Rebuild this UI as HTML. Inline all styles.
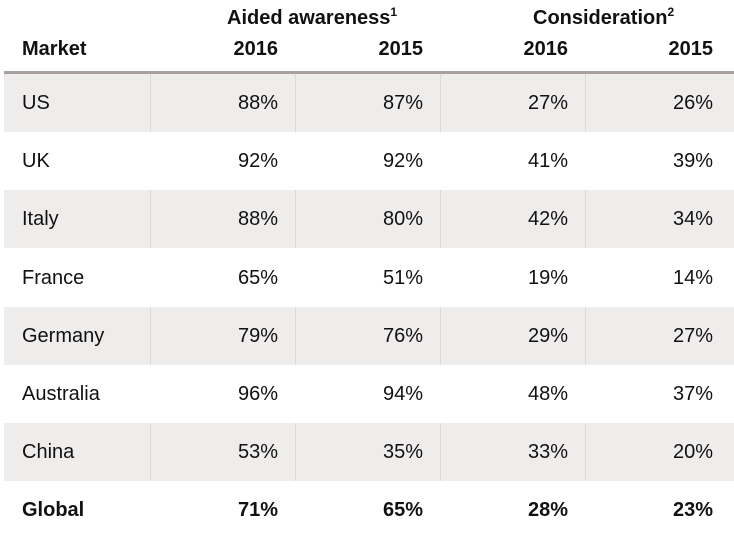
<!DOCTYPE html>
<html><head><meta charset="utf-8">
<style>
body{margin:0;width:734px;height:528px;background:#fff;font-family:"Liberation Sans",sans-serif;color:#111;overflow:hidden;position:relative}
.t{position:absolute;font-size:20px;line-height:24px;white-space:nowrap}
.r{text-align:right}
.b{font-weight:bold}
.row{position:absolute;left:4px;width:730px}
.sep{position:absolute;width:1px;background:#ddd8d8}
sup{font-size:12px;vertical-align:8px;line-height:0}
</style></head><body>
<div class="t b" style="left:227px;top:6px">Aided awareness<sup>1</sup></div>
<div class="t b" style="left:533px;top:6px">Consideration<sup>2</sup></div>
<div class="t b" style="left:22px;top:37px">Market</div>
<div class="t b r" style="right:456px;top:37px">2016</div>
<div class="t b r" style="right:311px;top:37px">2015</div>
<div class="t b r" style="right:166px;top:37px">2016</div>
<div class="t b r" style="right:21px;top:37px">2015</div>
<div style="position:absolute;left:4px;top:71px;width:730px;height:3px;background:#a8a0a0"></div>
<div id="tbl"></div>
<script>
const markets=["US","UK","Italy","France","Germany","Australia","China","Global"];
const aided2016=[88,92,88,65,79,96,53,71];
const aided2015=[87,92,80,51,76,94,35,65];
const cons2016=[27,41,42,19,29,48,33,28];
const cons2015=[26,39,34,14,27,37,20,23];
const tbl=document.getElementById('tbl');
const rightEdges=[456,311,166,21];
const seps=[150,295,440,585];
markets.forEach((m,i)=>{
  const top=74+i*58.2;
  const last=i===markets.length-1;
  const row=document.createElement('div');
  row.className='row';
  row.style.top=top+'px';row.style.height='58px';
  if(i%2===0&&!last){row.style.background='#efecec';}
  
  
  tbl.appendChild(row);
  if(i%2===0&&!last){seps.forEach(x=>{const s=document.createElement('div');s.className='sep';s.style.left=x+'px';s.style.top=top+'px';s.style.height='58px';
  
  
  tbl.appendChild(s);});}
  const ty=top+17;
  const lab=document.createElement('div');
  lab.className='t'+(last?' b':'');lab.style.left='22px';lab.style.top=ty+'px';lab.textContent=m;
  
  
  tbl.appendChild(lab);
  [aided2016[i],aided2015[i],cons2016[i],cons2015[i]].forEach((v,j)=>{
    const c=document.createElement('div');
    c.className='t r'+(last?' b':'');c.style.right=rightEdges[j]+'px';c.style.top=ty+'px';c.textContent=v+'%';
    
    
    tbl.appendChild(c);
  });
});
</script>
</body></html>
